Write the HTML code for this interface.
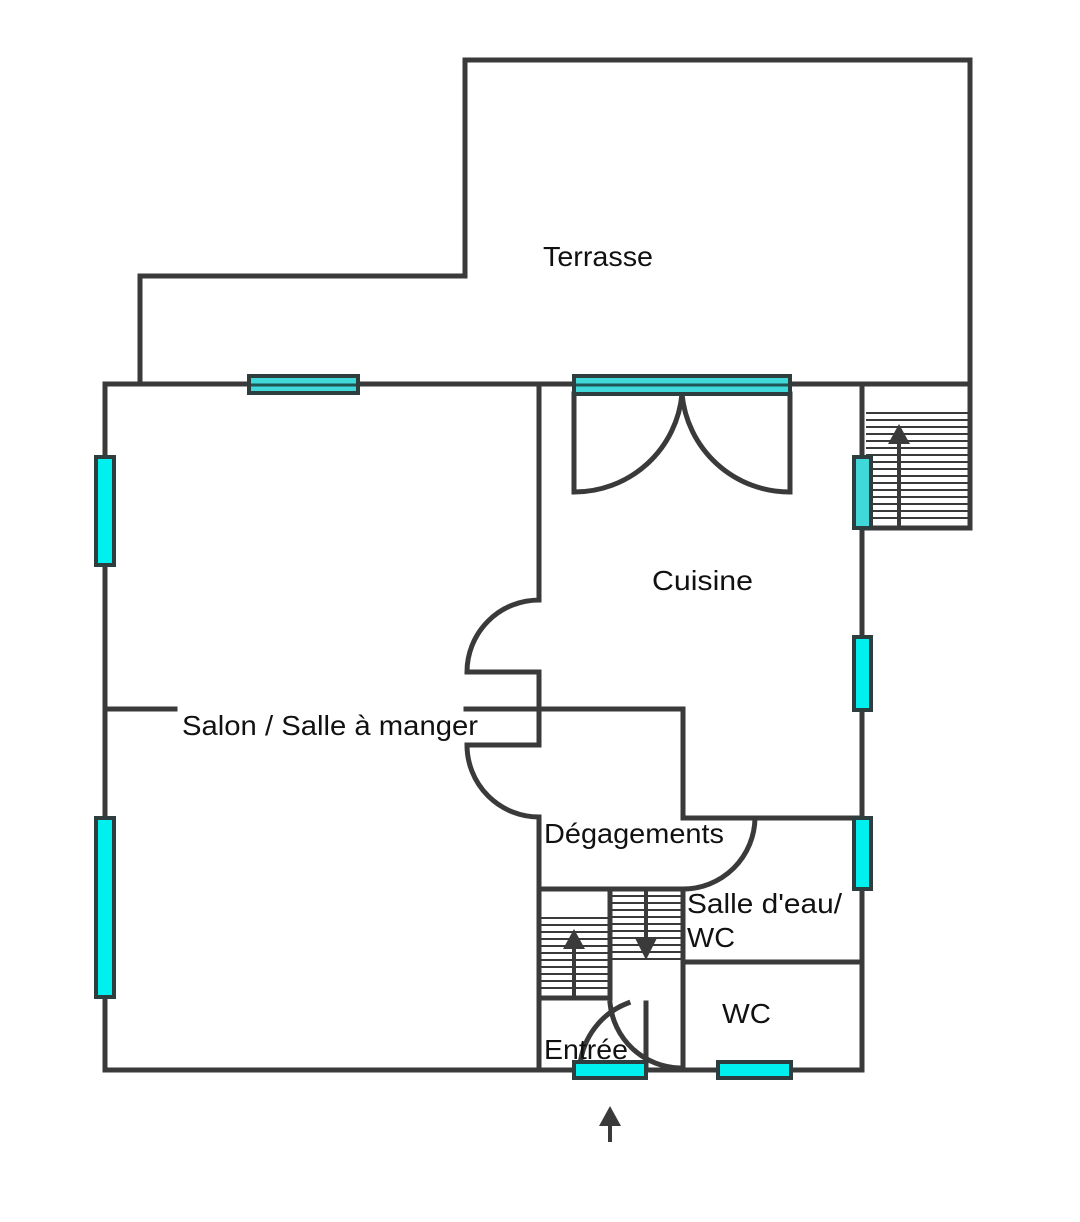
<!DOCTYPE html>
<html><head><meta charset="utf-8"><style>
html,body{margin:0;padding:0;background:#fff;}
svg{display:block}
text{font-family:"Liberation Sans",sans-serif;font-size:28px;fill:#111;}
</style></head><body>
<svg width="1080" height="1222" viewBox="0 0 1080 1222" xmlns="http://www.w3.org/2000/svg">
<g fill="none" stroke="#3a3a3a" stroke-width="5" stroke-linecap="square">
<polyline points="140,384 140,276 465,276 465,60 970,60 970,384"/>
<line x1="105" y1="384" x2="970" y2="384"/>
<line x1="105" y1="384" x2="105" y2="1070"/>
<line x1="105" y1="1070" x2="862" y2="1070"/>
<line x1="862" y1="384" x2="862" y2="1070"/>
<line x1="862" y1="528" x2="970" y2="528"/>
<line x1="970" y1="384" x2="970" y2="528"/>
<line x1="539" y1="384" x2="539" y2="600"/>
<path d="M539,600 A72,72 0 0 0 467,672 L539,672 L539,745 L467,745 A72,72 0 0 0 539,817 L539,1070"/>
<polyline points="105,709 175,709"/>
<polyline points="466,709 683,709 683,818 862,818"/>
<path d="M755,818 A72,72 0 0 1 683,889"/>
<line x1="539" y1="889" x2="683" y2="889"/>
<line x1="683" y1="889" x2="683" y2="1070"/>
<line x1="683" y1="962" x2="862" y2="962"/>
<line x1="610" y1="889" x2="610" y2="998"/>
<line x1="539" y1="998" x2="610" y2="998"/>
<path d="M574,394 L574,492 A108,108 0 0 0 682,394"/>
<path d="M790,394 L790,492 A108,108 0 0 1 682,394"/>
<line x1="646" y1="1003" x2="646" y2="1066"/>
<path d="M580,1065 A75,75 0 0 1 628,1003"/>
<path d="M610,1003 A72,72 0 0 0 680,1068"/>
</g>
<g stroke="#3a3a3a" stroke-width="2">
<line x1="866" y1="413" x2="968" y2="413"/><line x1="866" y1="420" x2="968" y2="420"/><line x1="866" y1="427" x2="968" y2="427"/><line x1="866" y1="434" x2="968" y2="434"/><line x1="866" y1="441" x2="968" y2="441"/><line x1="866" y1="448" x2="968" y2="448"/><line x1="866" y1="455" x2="968" y2="455"/><line x1="866" y1="462" x2="968" y2="462"/><line x1="866" y1="469" x2="968" y2="469"/><line x1="866" y1="476" x2="968" y2="476"/><line x1="866" y1="483" x2="968" y2="483"/><line x1="866" y1="490" x2="968" y2="490"/><line x1="866" y1="497" x2="968" y2="497"/><line x1="866" y1="504" x2="968" y2="504"/><line x1="866" y1="511" x2="968" y2="511"/><line x1="866" y1="518" x2="968" y2="518"/>
<line x1="541" y1="918" x2="608" y2="918"/><line x1="541" y1="925" x2="608" y2="925"/><line x1="541" y1="932" x2="608" y2="932"/><line x1="541" y1="939" x2="608" y2="939"/><line x1="541" y1="946" x2="608" y2="946"/><line x1="541" y1="953" x2="608" y2="953"/><line x1="541" y1="960" x2="608" y2="960"/><line x1="541" y1="967" x2="608" y2="967"/><line x1="541" y1="974" x2="608" y2="974"/><line x1="541" y1="981" x2="608" y2="981"/><line x1="541" y1="988" x2="608" y2="988"/>
<line x1="612" y1="896" x2="681" y2="896"/><line x1="612" y1="903" x2="681" y2="903"/><line x1="612" y1="910" x2="681" y2="910"/><line x1="612" y1="917" x2="681" y2="917"/><line x1="612" y1="924" x2="681" y2="924"/><line x1="612" y1="931" x2="681" y2="931"/><line x1="612" y1="938" x2="681" y2="938"/><line x1="612" y1="945" x2="681" y2="945"/><line x1="612" y1="952" x2="681" y2="952"/><line x1="612" y1="959" x2="681" y2="959"/>
</g>
<g stroke="#3a3a3a" stroke-width="4" fill="#3a3a3a">
<line x1="899" y1="528" x2="899" y2="440"/><polygon points="899,424 888,444 910,444" stroke="none"/>
<line x1="574" y1="998" x2="574" y2="945"/><polygon points="574,929 563,949 585,949" stroke="none"/>
<line x1="646" y1="889" x2="646" y2="942"/><polygon points="646,960 635,938 657,938" stroke="none"/>
<line x1="610" y1="1142" x2="610" y2="1120"/><polygon points="610,1106 599,1126 621,1126" stroke="none"/>
</g>
<g stroke="#2e3e3e" stroke-width="4">
<rect x="249" y="376" width="109" height="17" fill="#40d8d8"/>
<line x1="251" y1="385" x2="356" y2="385" stroke="#1e5555" stroke-width="3"/>
<rect x="574" y="376" width="216" height="18" fill="#40d8d8"/>
<line x1="576" y1="385" x2="788" y2="385" stroke="#1e5555" stroke-width="3"/>
<rect x="96" y="457" width="18" height="108" fill="#00f0f0"/>
<rect x="96" y="818" width="18" height="179" fill="#00f0f0"/>
<rect x="854" y="637" width="17" height="73" fill="#00f0f0"/>
<rect x="854" y="818" width="17" height="71" fill="#00f0f0"/>
<rect x="854" y="457" width="17" height="71" fill="#40d8d8"/>
<rect x="574" y="1062" width="72" height="16" fill="#00f0f0"/>
<rect x="718" y="1062" width="73" height="16" fill="#00f0f0"/>
</g>
<text x="543" y="266" textLength="110" lengthAdjust="spacingAndGlyphs">Terrasse</text>
<text x="652" y="590" textLength="101" lengthAdjust="spacingAndGlyphs">Cuisine</text>
<text x="182" y="735" textLength="296" lengthAdjust="spacingAndGlyphs">Salon / Salle à manger</text>
<text x="544" y="843" textLength="180" lengthAdjust="spacingAndGlyphs">Dégagements</text>
<text x="687" y="913" textLength="155" lengthAdjust="spacingAndGlyphs">Salle d'eau/</text>
<text x="687" y="947" textLength="48" lengthAdjust="spacingAndGlyphs">WC</text>
<text x="722" y="1023" textLength="49" lengthAdjust="spacingAndGlyphs">WC</text>
<text x="544" y="1059" textLength="84" lengthAdjust="spacingAndGlyphs">Entrée</text>
</svg>
</body></html>
